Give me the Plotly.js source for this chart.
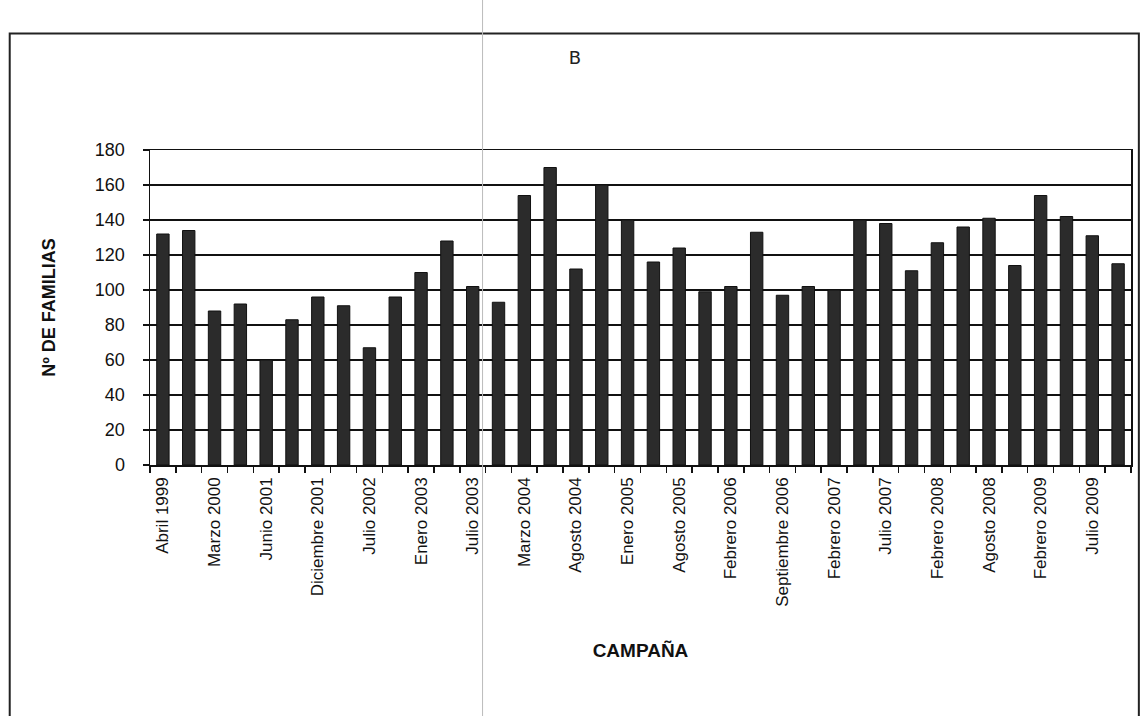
<!DOCTYPE html>
<html>
<head>
<meta charset="utf-8">
<script src="https://cdn.plot.ly/plotly-3.0.1.min.js"></script>
<style>html,body{margin:0;padding:0;background:#fff;}#chart{width:1143px;height:716px;}</style>
</head>
<body>
<div id="chart"></div>
<script>
// Tick labels (one label every second bar)
const tickLabels = ["Abril 1999","Marzo 2000","Junio 2001","Diciembre 2001","Julio 2002","Enero 2003","Julio 2003","Marzo 2004","Agosto 2004","Enero 2005","Agosto 2005","Febrero 2006","Septiembre 2006","Febrero 2007","Julio 2007","Febrero 2008","Agosto 2008","Febrero 2009","Julio 2009"];
// Nº de familias per campaign (38 campaigns)
const familias = [132,134,88,92,60,83,96,91,67,96,110,128,102,93,154,170,112,160,140,116,124,99,102,133,97,102,100,140,138,111,127,136,141,114,154,142,131,115];
const campaignIndex = familias.map((_, i) => i);
const tickPositions = tickLabels.map((_, i) => i * 2);

const trace = {
  type: 'bar',
  x: campaignIndex,
  y: familias,
  marker: {color: '#2b2b2b', line: {color: '#111', width: 1}},
  hoverinfo: 'y'
};

const layout = {
  width: 1143, height: 716,
  paper_bgcolor: '#fff', plot_bgcolor: '#fff',
  margin: {l: 150, r: 12, t: 150, b: 251},
  bargap: 0.52,
  showlegend: false,
  font: {family: 'Liberation Sans, Arial, sans-serif', color: '#111'},
  title: {text: 'B', x: 0.503, xanchor: 'center', y: 0.92, yanchor: 'middle',
          font: {size: 18, family: 'DejaVu Sans, sans-serif', color: '#222'}},
  xaxis: {
    range: [-0.5, 37.5],
    tickmode: 'array', tickvals: tickPositions, ticktext: tickLabels,
    tickangle: -90, ticks: '', ticklen: 0,
    tickfont: {size: 17, color: '#111'},
    ticklabelstandoff: 4,
    showgrid: false, zeroline: false,
    showline: true, linecolor: '#111', linewidth: 1.5, mirror: true,
    minor: {tick0: -0.5, dtick: 1, ticks: 'outside', ticklen: 6, tickcolor: '#111', tickwidth: 1.5, showgrid: false},
    title: {text: '<b>CAMPAÑA</b>', standoff: 38, font: {size: 19, color: '#111'}}
  },
  yaxis: {
    range: [0, 180], dtick: 20,
    ticks: 'outside', ticklen: 6, tickcolor: '#111', tickwidth: 1.5,
    tickfont: {size: 18, color: '#111'},
    ticklabelstandoff: 14,
    showgrid: true, gridcolor: '#111', gridwidth: 1.5,
    zeroline: false,
    showline: true, linecolor: '#111', linewidth: 1.5, mirror: true,
    title: {text: '<b>Nº DE FAMILIAS</b>', standoff: 34, font: {size: 18, color: '#111'}}
  },
  shapes: [
    {type: 'rect', xref: 'paper', yref: 'paper', x0: -0.143, x1: 1.008, y0: -0.80, y1: 1.37,
     line: {color: '#222', width: 2}},
    {type: 'line', xref: 'paper', yref: 'paper', x0: 0.339, x1: 0.339, y0: -0.80, y1: 1.48,
     line: {color: '#bbb', width: 1}}
  ]
};

Plotly.newPlot('chart', [trace], layout, {displayModeBar: false, staticPlot: true});
</script>
</body>
</html>
